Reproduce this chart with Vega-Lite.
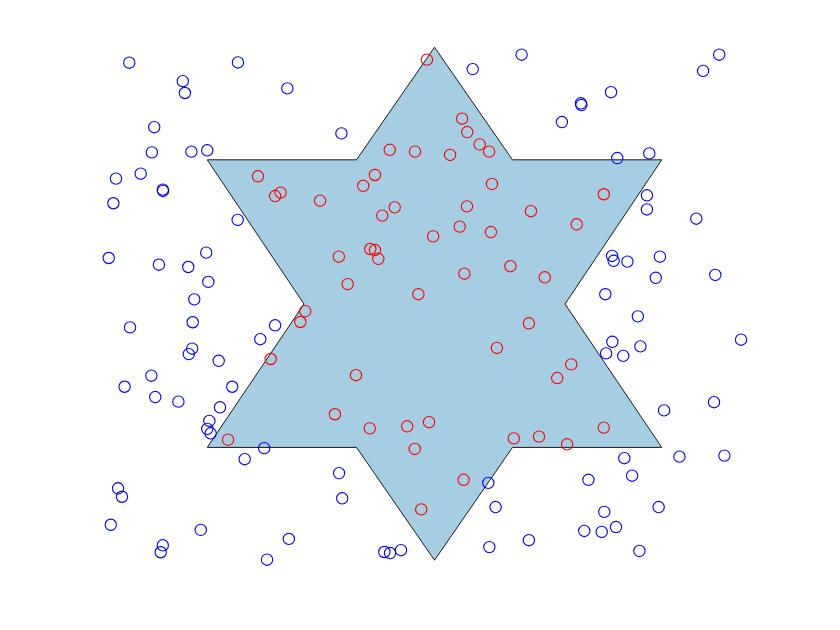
{
  "$schema": "https://vega.github.io/schema/vega-lite/v6.json",
  "width": 651,
  "height": 514,
  "autosize": "none",
  "padding": {"left": 109, "top": 47, "right": 80, "bottom": 69},
  "background": "white",
  "config": {"view": {"stroke": null}},
  "datasets": {
    "star": [
      {"i": 0, "x": 0, "y": 0.999},
      {"i": 1, "x": 0.3, "y": 0.561},
      {"i": 2, "x": 0.874, "y": 0.561},
      {"i": 3, "x": 0.502, "y": 0},
      {"i": 4, "x": 0.874, "y": -0.558},
      {"i": 5, "x": 0.3, "y": -0.558},
      {"i": 6, "x": 0, "y": -0.997},
      {"i": 7, "x": -0.3, "y": -0.558},
      {"i": 8, "x": -0.874, "y": -0.558},
      {"i": 9, "x": -0.502, "y": 0},
      {"i": 10, "x": -0.874, "y": 0.561},
      {"i": 11, "x": -0.3, "y": 0.561},
      {"i": 12, "x": 0, "y": 0.999}
    ],
    "pts": [
      {"x": -1.174, "y": 0.939, "g": "out"},
      {"x": -0.756, "y": 0.940, "g": "out"},
      {"x": -0.968, "y": 0.867, "g": "out"},
      {"x": -0.960, "y": 0.821, "g": "out"},
      {"x": -0.566, "y": 0.839, "g": "out"},
      {"x": -1.078, "y": 0.688, "g": "out"},
      {"x": -1.087, "y": 0.590, "g": "out"},
      {"x": -0.935, "y": 0.593, "g": "out"},
      {"x": -0.874, "y": 0.598, "g": "out"},
      {"x": -1.225, "y": 0.488, "g": "out"},
      {"x": -1.130, "y": 0.507, "g": "out"},
      {"x": -1.045, "y": 0.445, "g": "out"},
      {"x": -1.044, "y": 0.440, "g": "out"},
      {"x": -1.235, "y": 0.392, "g": "out"},
      {"x": -0.757, "y": 0.327, "g": "out"},
      {"x": 0.147, "y": 0.914, "g": "out"},
      {"x": 0.335, "y": 0.970, "g": "out"},
      {"x": -0.358, "y": 0.664, "g": "out"},
      {"x": 1.095, "y": 0.970, "g": "out"},
      {"x": 1.033, "y": 0.907, "g": "out"},
      {"x": 0.679, "y": 0.824, "g": "out"},
      {"x": 0.563, "y": 0.781, "g": "out"},
      {"x": 0.565, "y": 0.774, "g": "out"},
      {"x": 0.490, "y": 0.708, "g": "out"},
      {"x": 0.703, "y": 0.568, "g": "out"},
      {"x": 0.826, "y": 0.586, "g": "out"},
      {"x": 0.817, "y": 0.423, "g": "out"},
      {"x": 0.817, "y": 0.368, "g": "out"},
      {"x": 1.007, "y": 0.332, "g": "out"},
      {"x": -1.253, "y": 0.179, "g": "out"},
      {"x": -1.060, "y": 0.153, "g": "out"},
      {"x": -0.947, "y": 0.144, "g": "out"},
      {"x": -0.878, "y": 0.200, "g": "out"},
      {"x": -0.870, "y": 0.086, "g": "out"},
      {"x": -0.924, "y": 0.018, "g": "out"},
      {"x": -1.171, "y": -0.091, "g": "out"},
      {"x": -0.930, "y": -0.071, "g": "out"},
      {"x": -0.613, "y": -0.083, "g": "out"},
      {"x": -0.670, "y": -0.137, "g": "out"},
      {"x": -0.932, "y": -0.174, "g": "out"},
      {"x": -0.945, "y": -0.195, "g": "out"},
      {"x": -0.830, "y": -0.221, "g": "out"},
      {"x": -1.089, "y": -0.279, "g": "out"},
      {"x": -1.192, "y": -0.322, "g": "out"},
      {"x": -0.778, "y": -0.322, "g": "out"},
      {"x": -1.074, "y": -0.362, "g": "out"},
      {"x": -0.985, "y": -0.380, "g": "out"},
      {"x": -0.825, "y": -0.402, "g": "out"},
      {"x": -0.866, "y": -0.455, "g": "out"},
      {"x": -0.874, "y": -0.486, "g": "out"},
      {"x": -0.861, "y": -0.503, "g": "out"},
      {"x": -0.655, "y": -0.561, "g": "out"},
      {"x": -0.730, "y": -0.604, "g": "out"},
      {"x": -1.217, "y": -0.717, "g": "out"},
      {"x": -1.202, "y": -0.750, "g": "out"},
      {"x": -1.245, "y": -0.859, "g": "out"},
      {"x": -0.899, "y": -0.879, "g": "out"},
      {"x": -1.045, "y": -0.939, "g": "out"},
      {"x": -1.053, "y": -0.966, "g": "out"},
      {"x": -0.560, "y": -0.914, "g": "out"},
      {"x": -0.644, "y": -0.995, "g": "out"},
      {"x": -0.367, "y": -0.658, "g": "out"},
      {"x": -0.355, "y": -0.756, "g": "out"},
      {"x": 0.207, "y": -0.696, "g": "out"},
      {"x": 0.235, "y": -0.790, "g": "out"},
      {"x": -0.193, "y": -0.965, "g": "out"},
      {"x": -0.171, "y": -0.969, "g": "out"},
      {"x": -0.129, "y": -0.958, "g": "out"},
      {"x": 0.211, "y": -0.946, "g": "out"},
      {"x": 0.363, "y": -0.919, "g": "out"},
      {"x": 0.883, "y": -0.414, "g": "out"},
      {"x": 1.075, "y": -0.382, "g": "out"},
      {"x": 0.730, "y": -0.600, "g": "out"},
      {"x": 0.942, "y": -0.594, "g": "out"},
      {"x": 1.115, "y": -0.590, "g": "out"},
      {"x": 0.760, "y": -0.668, "g": "out"},
      {"x": 0.592, "y": -0.684, "g": "out"},
      {"x": 0.862, "y": -0.790, "g": "out"},
      {"x": 0.653, "y": -0.809, "g": "out"},
      {"x": 0.576, "y": -0.883, "g": "out"},
      {"x": 0.643, "y": -0.887, "g": "out"},
      {"x": 0.698, "y": -0.868, "g": "out"},
      {"x": 0.788, "y": -0.961, "g": "out"},
      {"x": 0.683, "y": 0.187, "g": "out"},
      {"x": 0.689, "y": 0.168, "g": "out"},
      {"x": 0.742, "y": 0.165, "g": "out"},
      {"x": 0.867, "y": 0.184, "g": "out"},
      {"x": 0.851, "y": 0.102, "g": "out"},
      {"x": 1.080, "y": 0.113, "g": "out"},
      {"x": 0.657, "y": 0.038, "g": "out"},
      {"x": 0.782, "y": -0.048, "g": "out"},
      {"x": 0.684, "y": -0.147, "g": "out"},
      {"x": 0.660, "y": -0.192, "g": "out"},
      {"x": 0.726, "y": -0.202, "g": "out"},
      {"x": 0.792, "y": -0.165, "g": "out"},
      {"x": 1.179, "y": -0.139, "g": "out"},
      {"x": -0.029, "y": 0.951, "g": "in"},
      {"x": 0.106, "y": 0.721, "g": "in"},
      {"x": 0.126, "y": 0.669, "g": "in"},
      {"x": 0.174, "y": 0.621, "g": "in"},
      {"x": 0.210, "y": 0.593, "g": "in"},
      {"x": -0.172, "y": 0.600, "g": "in"},
      {"x": -0.075, "y": 0.593, "g": "in"},
      {"x": 0.060, "y": 0.580, "g": "in"},
      {"x": -0.229, "y": 0.502, "g": "in"},
      {"x": -0.274, "y": 0.460, "g": "in"},
      {"x": 0.221, "y": 0.467, "g": "in"},
      {"x": -0.679, "y": 0.497, "g": "in"},
      {"x": -0.613, "y": 0.420, "g": "in"},
      {"x": -0.592, "y": 0.433, "g": "in"},
      {"x": -0.440, "y": 0.402, "g": "in"},
      {"x": -0.153, "y": 0.376, "g": "in"},
      {"x": -0.201, "y": 0.344, "g": "in"},
      {"x": 0.125, "y": 0.380, "g": "in"},
      {"x": 0.371, "y": 0.361, "g": "in"},
      {"x": 0.651, "y": 0.427, "g": "in"},
      {"x": 0.547, "y": 0.310, "g": "in"},
      {"x": -0.005, "y": 0.263, "g": "in"},
      {"x": 0.097, "y": 0.301, "g": "in"},
      {"x": 0.217, "y": 0.280, "g": "in"},
      {"x": -0.368, "y": 0.184, "g": "in"},
      {"x": -0.247, "y": 0.214, "g": "in"},
      {"x": -0.229, "y": 0.210, "g": "in"},
      {"x": -0.216, "y": 0.176, "g": "in"},
      {"x": -0.334, "y": 0.077, "g": "in"},
      {"x": -0.062, "y": 0.038, "g": "in"},
      {"x": 0.115, "y": 0.118, "g": "in"},
      {"x": 0.292, "y": 0.147, "g": "in"},
      {"x": 0.424, "y": 0.104, "g": "in"},
      {"x": 0.363, "y": -0.075, "g": "in"},
      {"x": 0.240, "y": -0.171, "g": "in"},
      {"x": -0.302, "y": -0.277, "g": "in"},
      {"x": -0.497, "y": -0.028, "g": "in"},
      {"x": -0.516, "y": -0.070, "g": "in"},
      {"x": -0.630, "y": -0.214, "g": "in"},
      {"x": 0.526, "y": -0.235, "g": "in"},
      {"x": 0.472, "y": -0.288, "g": "in"},
      {"x": -0.794, "y": -0.528, "g": "in"},
      {"x": -0.383, "y": -0.429, "g": "in"},
      {"x": -0.249, "y": -0.484, "g": "in"},
      {"x": -0.105, "y": -0.476, "g": "in"},
      {"x": -0.021, "y": -0.460, "g": "in"},
      {"x": -0.076, "y": -0.564, "g": "in"},
      {"x": 0.305, "y": -0.523, "g": "in"},
      {"x": 0.402, "y": -0.516, "g": "in"},
      {"x": 0.510, "y": -0.546, "g": "in"},
      {"x": 0.651, "y": -0.481, "g": "in"},
      {"x": 0.112, "y": -0.684, "g": "in"},
      {"x": -0.051, "y": -0.799, "g": "in"}
    ]
  },
  "layer": [
    {
      "data": {"name": "star"},
      "mark": {"type": "line", "fill": "#a6cee3", "stroke": "#1a1a1a", "strokeWidth": 1, "interpolate": "linear"},
      "encoding": {
        "x": {"field": "x", "type": "quantitative", "scale": {"domain": [-1.2519, 1.2519], "nice": false, "zero": false}, "axis": null},
        "y": {"field": "y", "type": "quantitative", "scale": {"domain": [-1, 1], "nice": false, "zero": false}, "axis": null},
        "order": {"field": "i", "type": "quantitative"}
      }
    },
    {
      "data": {"name": "pts"},
      "mark": {"type": "point", "shape": "circle", "filled": false, "size": 128, "strokeWidth": 1.1, "opacity": 1},
      "encoding": {
        "x": {"field": "x", "type": "quantitative"},
        "y": {"field": "y", "type": "quantitative"},
        "color": {"field": "g", "type": "nominal", "scale": {"domain": ["in", "out"], "range": ["#ff0000", "#0000ff"]}, "legend": null}
      }
    }
  ]
}
